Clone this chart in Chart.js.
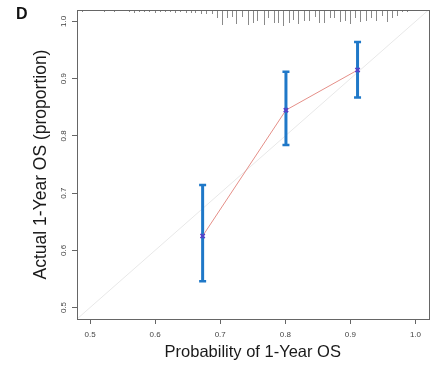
<!DOCTYPE html>
<html>
<head>
<meta charset="utf-8">
<script src="https://cdn.jsdelivr.net/npm/chart.js@4/dist/chart.umd.min.js"></script>
<style>
  html, body { margin: 0; padding: 0; background: #fff; }
  #wrap { width: 435px; height: 367px; position: relative; }
  #panel { position: absolute; left: 16px; top: 5px; font: bold 16px "Liberation Sans", Arial, sans-serif; color: #111; }
</style>
</head>
<body>
<div id="wrap">
  <canvas id="calChart" width="435" height="367"></canvas>
  <div id="panel">D</div>
</div>
<script>
// valores da curva de calibração
const predicted = [0.673, 0.801, 0.911];
const observed = [0.625, 0.845, 0.915];
const ciLow = [0.546, 0.784, 0.867];
const ciHigh = [0.714, 0.912, 0.964];

// ticks dos eixos
const xTicks = [0.5, 0.6, 0.7, 0.8, 0.9, 1.0];
const yTicks = [0.5, 0.6, 0.7, 0.8, 0.9, 1.0];
const axisMin = 0.48;
const axisMax = 1.02;

// distribuição das probabilidades previstas (rug no topo)
const rugX = [0.488, 0.521, 0.537, 0.560, 0.567, 0.575, 0.583, 0.590, 0.600, 0.607, 0.615, 0.623, 0.630,
  0.639, 0.647, 0.655, 0.662, 0.670, 0.678, 0.687, 0.695, 0.702, 0.710, 0.718, 0.725, 0.734, 0.742, 0.750,
  0.757, 0.767, 0.774, 0.782, 0.789, 0.797, 0.805, 0.812, 0.820, 0.829, 0.837, 0.845, 0.852, 0.860, 0.868,
  0.875, 0.884, 0.892, 0.900, 0.907, 0.915, 0.924, 0.932, 0.940, 0.949, 0.956, 0.964, 0.972, 0.979, 0.987];
const rugFreq = [2, 2, 2, 2, 3, 2, 2, 2, 3, 2, 2, 2, 3,
  2, 3, 3, 3, 4, 4, 4, 8, 15, 8, 7, 14, 7, 15, 13,
  11, 15, 8, 13, 13, 16, 13, 10, 14, 11, 11, 7, 13, 13, 8,
  8, 12, 11, 14, 8, 12, 11, 8, 11, 6, 12, 8, 6, 2, 2];

const fontFamily = '"Liberation Sans", Arial, sans-serif';

// barras de erro: um dataset por ponto
const errorSets = predicted.map(function(x, i) {
    return {
        data: [{ x: x, y: ciLow[i] }, { x: x, y: ciHigh[i] }],
        showLine: true,
        borderColor: '#1f78c8',
        borderWidth: 3,
        pointStyle: 'line',
        pointRadius: 3.5,
        pointBorderWidth: 2.5,
        pointBorderColor: '#1f78c8',
        order: 1
    };
});

const boxPlugin = {
    id: 'boxAndRug',
    afterDatasetsDraw(chart) {
        const ctx = chart.ctx;
        const area = chart.chartArea;
        const xs = chart.scales.x;
        const ys = chart.scales.y;
        ctx.save();
        // rug
        ctx.strokeStyle = '#8a8a8a';
        ctx.lineWidth = 1;
        rugX.forEach(function(v, i) {
            const px = Math.round(xs.getPixelForValue(v)) + 0.5;
            ctx.beginPath();
            ctx.moveTo(px, area.top);
            ctx.lineTo(px, area.top + rugFreq[i]);
            ctx.stroke();
        });
        // moldura
        ctx.strokeStyle = '#666';
        ctx.strokeRect(Math.round(area.left) + 0.5, Math.round(area.top) + 0.5,
            Math.round(area.right - area.left), Math.round(area.bottom - area.top));
        // rótulos do eixo y (rotacionados)
        ctx.fillStyle = '#444';
        ctx.font = '8px ' + fontFamily;
        ctx.textAlign = 'center';
        ctx.textBaseline = 'middle';
        yTicks.forEach(function(v) {
            const py = ys.getPixelForValue(v);
            ctx.save();
            ctx.translate(area.left - 13, py);
            ctx.rotate(-Math.PI / 2);
            ctx.fillText(v.toFixed(1), 0, 0);
            ctx.restore();
        });
        ctx.restore();
    }
};

const ctx = document.getElementById('calChart').getContext('2d');
const calChart = new Chart(ctx, {
    type: 'scatter',
    data: {
        datasets: [
            {
                data: predicted.map(function(x, i) { return { x: x, y: observed[i] }; }),
                showLine: true,
                borderColor: '#e58f88',
                borderWidth: 1,
                pointStyle: 'crossRot',
                pointRadius: 3,
                pointBorderWidth: 1.8,
                pointBorderColor: '#5540c8',
                order: 0
            },
            ...errorSets,
            {
                data: [{ x: axisMin, y: axisMin }, { x: axisMax, y: axisMax }],
                showLine: true,
                borderColor: '#e8e8e8',
                borderWidth: 1,
                pointRadius: 0,
                order: 2
            }
        ]
    },
    options: {
        responsive: false,
        animation: false,
        layout: { padding: { left: 0, right: 6, top: 10, bottom: 0 } },
        plugins: {
            legend: { display: false },
            tooltip: { enabled: false }
        },
        scales: {
            x: {
                type: 'linear',
                min: axisMin,
                max: axisMax,
                afterBuildTicks: function(scale) {
                    scale.ticks = xTicks.map(function(v) { return { value: v }; });
                },
                afterFit: function(scale) { scale.height = 48; },
                grid: { drawOnChartArea: false, tickLength: 5, color: '#666' },
                border: { display: false },
                ticks: {
                    font: { family: fontFamily, size: 8 },
                    color: '#444',
                    padding: 6,
                    maxRotation: 0,
                    callback: function(v) { return Number(v).toFixed(1); }
                },
                title: {
                    display: true,
                    text: 'Probability of 1-Year OS',
                    font: { family: fontFamily, size: 16.5 },
                    color: '#1a1a1a',
                    padding: { top: 0, bottom: 5 }
                }
            },
            y: {
                type: 'linear',
                min: axisMin,
                max: axisMax,
                afterBuildTicks: function(scale) {
                    scale.ticks = yTicks.map(function(v) { return { value: v }; });
                },
                afterFit: function(scale) { scale.width = 77; },
                grid: { drawOnChartArea: false, tickLength: 5, color: '#666' },
                border: { display: false },
                ticks: {
                    font: { family: fontFamily, size: 8 },
                    color: 'rgba(0,0,0,0)',
                    callback: function(v) { return Number(v).toFixed(1); }
                },
                title: {
                    display: true,
                    text: 'Actual 1-Year OS (proportion)',
                    font: { family: fontFamily, size: 17.5 },
                    color: '#1a1a1a',
                    padding: { top: 31, bottom: 0 }
                }
            }
        }
    },
    plugins: [boxPlugin]
});
</script>
</body>
</html>
